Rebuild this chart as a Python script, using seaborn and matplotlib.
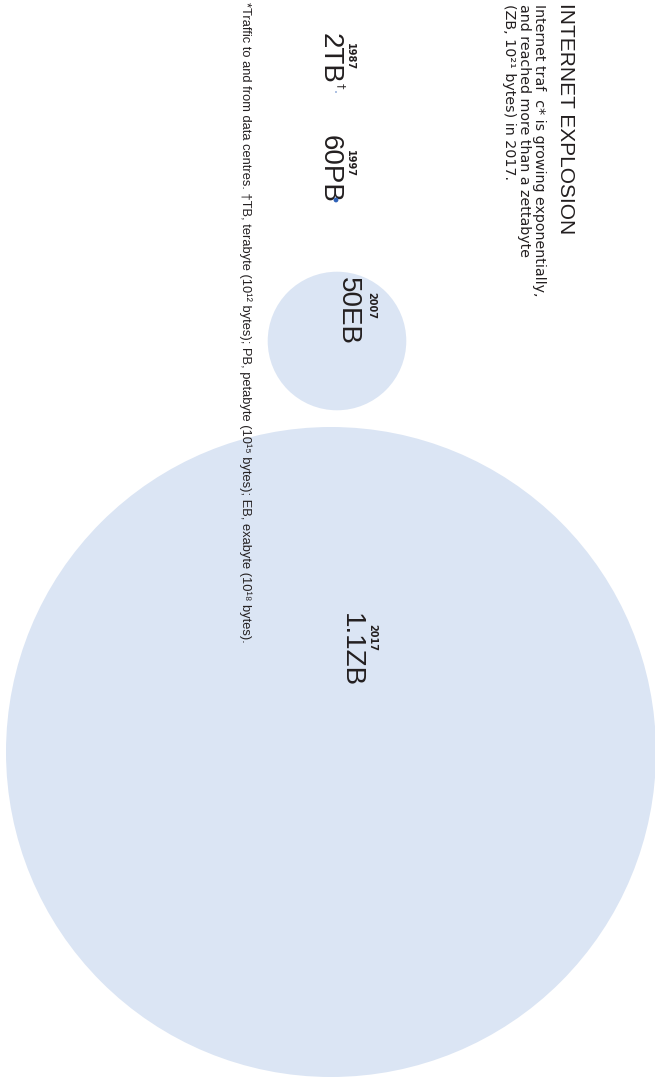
import numpy as np
import pandas as pd
import matplotlib
matplotlib.use("Agg")
import matplotlib.pyplot as plt
import seaborn as sns

# ---------------- data ----------------
years = ["1987", "1997", "2007", "2017"]
labels = ["2TB", "60PB", "50EB", "1.1ZB"]
traffic_bytes = [2e12, 60e15, 50e18, 1.1e21]

title = "INTERNET EXPLOSION"
subtitle = ("Internet traf  c* is growing exponentially,\n"
            "and reached more than a zettabyte\n"
            "(ZB, 10\u00b2\u00b9 bytes) in 2017.")
footnote = ("*Traffic to and from data centres. \u2020TB, terabyte (10\u00b9\u00b2 bytes); "
            "PB, petabyte (10\u00b9\u2075 bytes); EB, exabyte (10\u00b9\u2078 bytes).")

# ---------------- layout (pixel frame, chart rotated 90 deg clockwise) ----------------
W, H = 655, 1078
centre_x = [336, 336, 337, 331]
centre_y = [92, 200, 341, 752]
r_max = 325.0                       # radius of largest circle in px
value_label_pos = [(330, 33), (330, 135), (348, 277), (351, 613)]   # (x centre, top y)
year_label_pos = [(350, 57), (350, 163), (371, 306), (372, 638)]    # (x centre, y centre)

FILL = "#dbe5f4"
DOT = "#2f62b8"
INK = "#231f20"

sns.set_theme(style="white")
ARIAL = ["Liberation Sans", "DejaVu Sans"]
plt.rcParams["font.family"] = ["DejaVu Sans"]

fig = plt.figure(figsize=(W / 100, H / 100), dpi=100)
ax = fig.add_axes([0, 0, 1, 1])

# circle area proportional to traffic
vals = np.array(traffic_bytes)
radius = r_max * np.sqrt(vals / vals.max())
radius_draw = np.maximum(radius, 0.7)
pt_per_px = 72.0 / fig.dpi
sizes = (2 * radius_draw * pt_per_px) ** 2
df = pd.DataFrame({"year": years, "cx": centre_x, "cy": centre_y, "s": sizes,
                   "kind": np.where(radius < 3, "dot", "disc")})

discs = df[df["kind"] == "disc"]
dots = df[df["kind"] == "dot"]
sns.scatterplot(data=discs, x="cx", y="cy", s=discs["s"].values, color=FILL,
                linewidth=0, legend=False, ax=ax, zorder=1)
sns.scatterplot(data=dots, x="cx", y="cy", s=dots["s"].values, color=DOT,
                linewidth=0, legend=False, ax=ax, zorder=4)
ax.set_xlim(0, W)
ax.set_ylim(H, 0)
ax.set_axis_off()

# ---------------- texts ----------------
ax.text(566, 3, title, rotation=270, ha="center", va="top", fontsize=15,
        family=ARIAL, color=INK, zorder=3)
ax.text(524, 4, subtitle, rotation=270, ha="center", va="top", fontsize=10.25,
        family=["DejaVu Sans"], color=INK, linespacing=1.08, multialignment="left",
        zorder=3)
ax.text(245, 2, footnote, rotation=270, ha="center", va="top", fontsize=9.3,
        family=ARIAL, color=INK, zorder=3)

for lab, (lx, ly) in zip(labels, value_label_pos):
    ax.text(lx, ly, lab, rotation=270, ha="center", va="top", fontsize=20,
            family=ARIAL, color=INK, zorder=3)
# dagger marking TB
ax.text(341, 86, "\u2020", rotation=270, ha="center", va="center", fontsize=8,
        family=["DejaVu Sans"], color=INK, zorder=3)

for yr, (yx, yy) in zip(years, year_label_pos):
    ax.text(yx, yy, yr, rotation=270, ha="center", va="center", fontsize=7,
            fontweight="bold", family=["DejaVu Sans"], color=INK, zorder=3)

fig.savefig("out.png", dpi=100, facecolor="white")
